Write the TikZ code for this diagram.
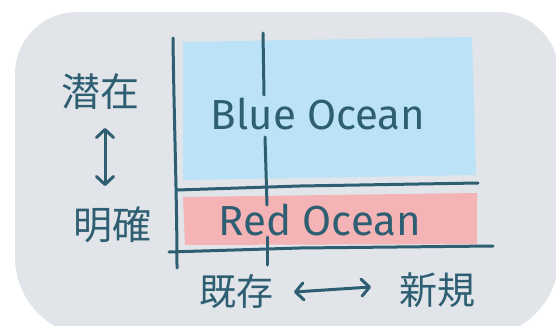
\documentclass[tikz,border=0pt]{standalone}
\usepackage{fontspec}
\newfontfamily\jp{Noto Sans CJK JP}
\newfontfamily\hand{Fira Sans}
\usetikzlibrary{arrows.meta}
\definecolor{bgc}{HTML}{E1E5E9}
\definecolor{blu}{HTML}{BBE2F7}
\definecolor{rd}{HTML}{F4B3B4}
\definecolor{ink}{HTML}{2E5E72}
\begin{document}
\begin{tikzpicture}[x=1pt,y=-1pt,
  pen/.style={draw=ink,line width=3pt,line cap=round,line join=round},
  lbl/.style={text=ink,inner sep=0pt},
  ocean/.style={lbl,font=\hand\fontsize{42}{42}\selectfont},
  jlbl/.style={lbl,font=\jp\fontsize{39}{39}\selectfont},
  barbtip/.tip={Straight Barb[length=8pt,width=17pt,line cap=round,round]},
  dbl/.style={pen,barbtip-barbtip}]
\useasboundingbox (0,0) rectangle (556,326);
\clip (0,0) rectangle (556,326);
% background card
\fill[bgc, rounded corners=62pt] (15,300) -- (15,12) -- (559,12) -- (559,300) -- cycle;
\fill[bgc, rounded corners=80pt] (15,40) -- (15,337) -- (559,337) -- (559,40) -- cycle;
% quadrant fills
\fill[blu] (183,42) -- (472,37) -- (476,175) -- (183,180) -- cycle;
\fill[rd] (183,197) -- (477,193) -- (477,244) -- (185,245) -- cycle;
% axes / grid lines
\draw[pen] (173,38) .. controls (174,120) and (177,200) .. (177,268);
\draw[pen] (177,190) -- (300,186) -- (478,183);
\draw[pen] (169,252) -- (300,248) -- (493,246);
\coordinate (m1) at (263,33);
\coordinate (m2) at (264,95);
\coordinate (m3) at (265,137);
\coordinate (m4) at (267,205);
\coordinate (m5) at (267,237);
\coordinate (m6) at (267,265);
\draw[pen] (m1) -- (m2);
\draw[pen] (m3) -- (m4);
\draw[pen] (m5) -- (m6);
% labels
\node[ocean] (blue) at (318,114) {Blue Ocean};
\node[ocean] (red) at (320,220) {Red Ocean};
\node[jlbl] (sen) at (100,92) {潜在};
\node[jlbl] (mei) at (112,225) {明確};
\node[jlbl,font=\jp\fontsize{37}{37}\selectfont] (kizon) at (236,291) {既存};
\node[jlbl,font=\jp\fontsize{38}{38}\selectfont] (shin) at (437,290) {新規};
% arrows
\coordinate (va) at (105,128);
\coordinate (vb) at (105,186);
\draw[dbl] (va) -- (vb);
\coordinate (ha) at (294,292);
\coordinate (hb) at (371,287);
\draw[dbl] (ha) -- (hb);
\end{tikzpicture}
\end{document}
